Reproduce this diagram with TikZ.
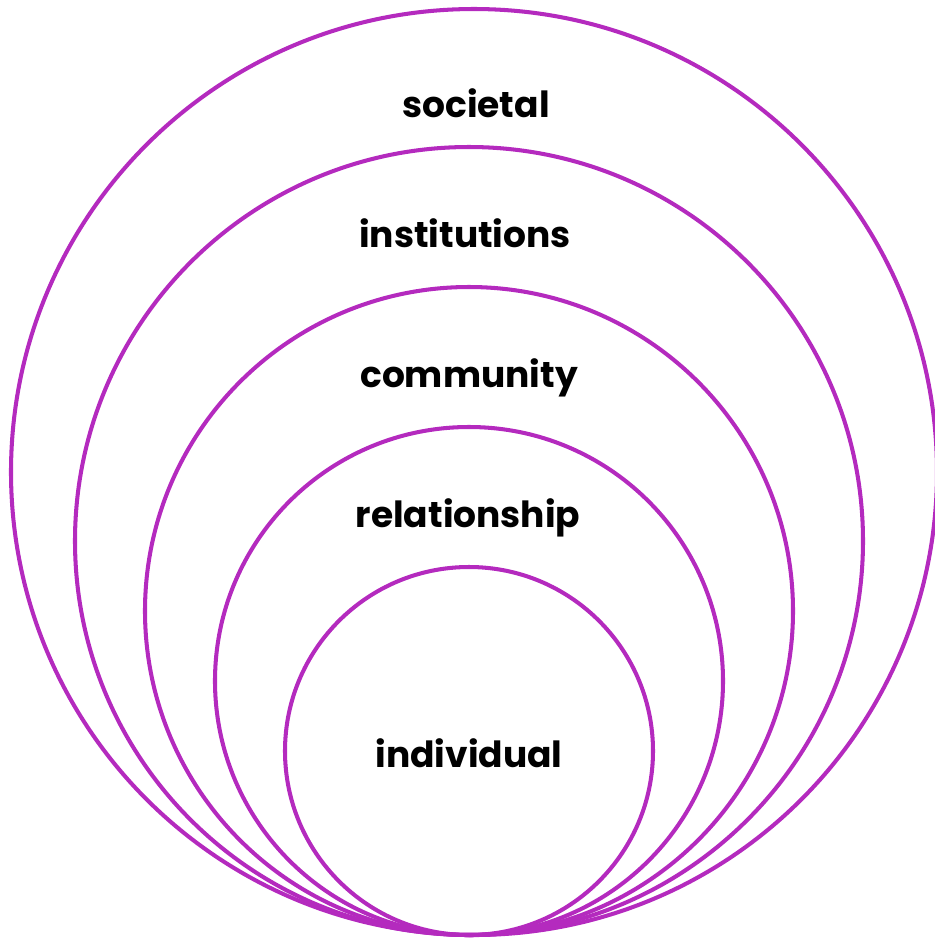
\documentclass[tikz,border=0pt]{standalone}
\usepackage{fontspec}
\setmainfont{Poppins}
\usepackage{xcolor}
\usepackage{tikz}

\definecolor{ringpurple}{RGB}{180,42,190}

\tikzset{
	ring/.style={circle, draw=ringpurple, line width=2.3pt, inner sep=0pt, outer sep=0pt},
	lbl/.style={anchor=base, font=\fontsize{20.5}{24}\selectfont\bfseries, text=black, inner sep=0pt}
}

\begin{document}
\begin{tikzpicture}[x=0.02cm,y=-0.02cm]

			\useasboundingbox (0,0) rectangle (935,938);
			\clip (0,0) rectangle (935,938);

			% rings, outer to inner
			\foreach \nm/\cx/\cy/\r in {societal/474/472/463, institutions/469/541/394, community/469/611/324, relationship/469/681/254, individual/469/751/184} {
				\node [ring, minimum size=2*\r*0.02cm] (\nm) at (\cx,\cy) {};
			}

			% labels
			\foreach \nm/\tx/\ty in {societal/476/117, institutions/465/247, community/469/387, relationship/468/527, individual/469/767} {
				\node [lbl] (\nm-txt) at (\tx,\ty) {\nm};
			}
		\end{tikzpicture}
\end{document}
